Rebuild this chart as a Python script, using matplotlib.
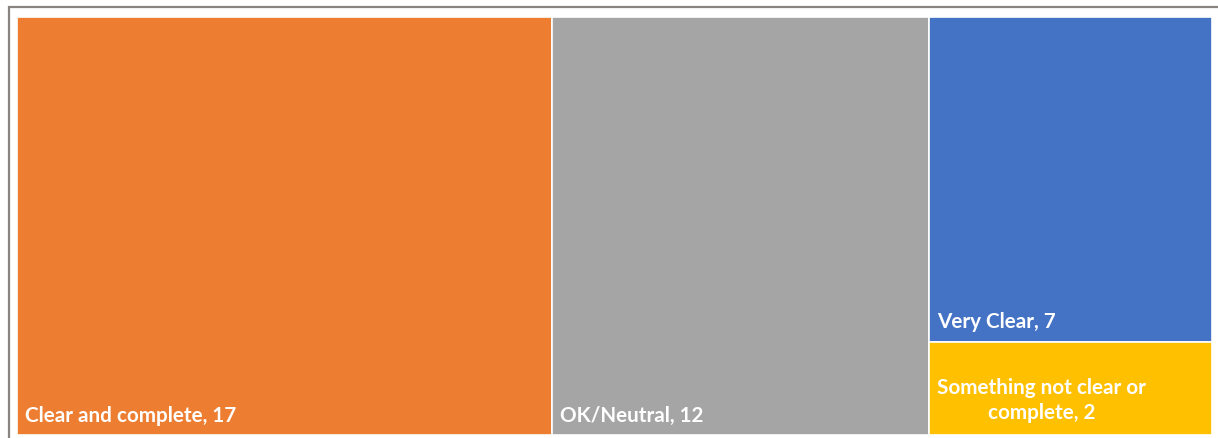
import matplotlib
matplotlib.use("Agg")
import matplotlib.pyplot as plt
from matplotlib.patches import Rectangle

categories = ["Clear and complete", "OK/Neutral", "Very Clear", "Something not clear or\ncomplete"]
values = [17, 12, 7, 2]
colors = ["#ED7D31", "#A5A5A5", "#4472C4", "#FFC000"]

W, H = 1218, 439
fig = plt.figure(figsize=(W / 100, H / 100), dpi=100)
fig.patch.set_facecolor("white")

# outer chart border
fig.add_artist(Rectangle((8.5 / W, -0.1), 1.2, 1.1 - 8.5 / H, transform=fig.transFigure,
                         fill=False, edgecolor="#8a8480", linewidth=1.6))

ax = fig.add_axes([17 / W, 3 / H, 1195 / W, 418 / H])
ax.set_xlim(0, 1)
ax.set_ylim(0, 1)
ax.axis("off")

total = sum(values)
rects = []
x = 0.0
for v in values[:2]:
    w = v / total
    rects.append((x, 0.0, w, 1.0))
    x += w
rest = sum(values[2:])
w = rest / total
y = 1.0
for v in values[2:]:
    h = v / rest
    y -= h
    rects.append((x, y, w, h))

for (rx, ry, rw, rh), c in zip(rects, colors):
    ax.add_patch(Rectangle((rx, ry), rw, rh, facecolor=c, edgecolor="white", linewidth=1.2))

font = dict(family="Lato", weight="bold", color="white", fontsize=14.9)
px = 1 / 1195
py = 1 / 418
offsets = [14, 14, 15, 17]
for i, ((rx, ry, rw, rh), cat, v) in enumerate(zip(rects, categories, values)):
    label = f"{cat}, {v}"
    ax.text(rx + 8 * px, ry + offsets[i] * py, label, ha="left", va="baseline",
            multialignment="center", linespacing=1.3, **font)

fig.savefig("out.png", dpi=100, facecolor="white")
